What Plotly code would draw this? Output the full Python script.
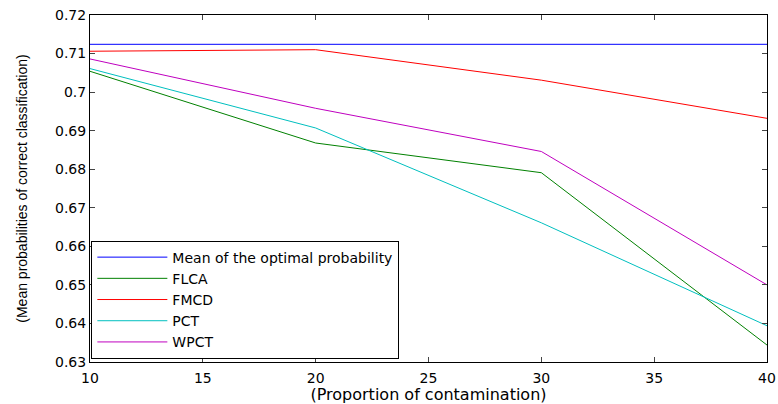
import plotly.graph_objects as go

x = [10, 20, 30, 40]
optimal = [0.7124, 0.7124, 0.7124, 0.7124]
flca = [0.7054, 0.6868, 0.6791, 0.6344]
fmcd = [0.7106, 0.7110, 0.7031, 0.6932]
pct = [0.7061, 0.6907, 0.6661, 0.6394]
wpct = [0.7086, 0.6958, 0.6846, 0.6500]

names = ["Mean of the optimal probability", "FLCA", "FMCD", "PCT", "WPCT"]
series = [optimal, flca, fmcd, pct, wpct]
colors = ["#0000ff", "#008000", "#ff0000", "#00bfbf", "#bf00bf"]

xticks = [10, 15, 20, 25, 30, 35, 40]
yticks = [0.63, 0.64, 0.65, 0.66, 0.67, 0.68, 0.69, 0.70, 0.71, 0.72]
yticklabels = ["0.63", "0.64", "0.65", "0.66", "0.67", "0.68", "0.69", "0.7", "0.71", "0.72"]

wide = "DejaVu Sans, Arial, sans-serif"
narrow = "Liberation Sans, Arial, sans-serif"

fig = go.Figure()
for n, s, c in zip(names, series, colors):
    fig.add_trace(go.Scatter(x=x, y=s, mode="lines", name=n,
                             line=dict(color=c, width=1)))

fig.update_layout(
    width=778, height=404,
    margin=dict(l=90, r=11, t=15, b=42, autoexpand=False),
    paper_bgcolor="white", plot_bgcolor="white",
    font=dict(family=wide, size=14, color="black"),
    showlegend=True,
    legend=dict(x=0.002, y=0.01, xanchor="left", yanchor="bottom",
                bgcolor="white", bordercolor="black", borderwidth=1,
                font=dict(family=wide, size=14, color="black"),
                itemwidth=70, tracegroupgap=0),
)
fig.update_xaxes(range=[10, 40], tickvals=xticks, ticks="inside", ticklen=5,
                 showline=True, linecolor="black", linewidth=1, mirror="allticks",
                 showgrid=False, zeroline=False, ticklabelstandoff=3, automargin=False,
                 title=dict(text="(Proportion of contamination)", standoff=8,
                            font=dict(family=wide, size=16)),
                 tickfont=dict(family=wide, size=14))
fig.update_yaxes(range=[0.63, 0.72], tickvals=yticks, ticktext=yticklabels,
                 ticks="inside", ticklen=5, automargin=False,
                 showline=True, linecolor="black", linewidth=1, mirror="allticks",
                 showgrid=False, zeroline=False,
                 title=dict(text="(Mean probabilities of correct classification)", standoff=24,
                            font=dict(family=narrow, size=14)),
                 tickfont=dict(family=wide, size=14))

fig.write_html("out.html")
